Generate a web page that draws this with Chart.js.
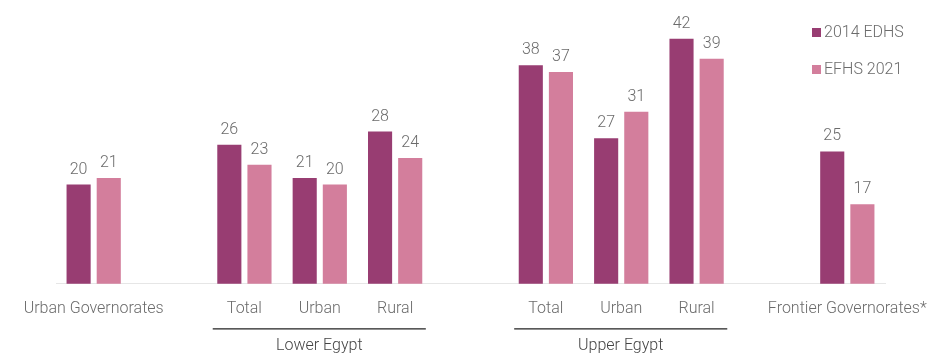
<!DOCTYPE html>
<html>
<head>
<meta charset="utf-8">
<script src="https://cdn.jsdelivr.net/npm/chart.js@4/dist/chart.umd.min.js"></script>
<style>
  html, body { margin: 0; padding: 0; background: #fff; }
  #wrap { width: 939px; height: 355px; position: relative; }
</style>
</head>
<body>
<div id="wrap"><canvas id="chart"></canvas></div>
<script>
// categories (empty strings are spacer slots between groups)
const categories = ['Urban Governorates', '', 'Total', 'Urban', 'Rural', '', 'Total', 'Urban', 'Rural', '', 'Frontier Governorates*'];
const edhs2014 = [20, null, 26, 21, 28, null, 38, 27, 42, null, 25];
const efhs2021 = [21, null, 23, 20, 24, null, 37, 31, 39, null, 17];
const seriesNames = ['2014 EDHS', 'EFHS 2021'];
const groups = [
  { label: 'Lower Egypt', from: 2, to: 4 },
  { label: 'Upper Egypt', from: 6, to: 8 }
];

const darkColor = '#983d72';
const lightColor = '#d37e9c';
const textColor = '#6b6b6b';
const fontFamily = 'Roboto, sans-serif';

// value labels above each bar
const valueLabels = {
  id: 'valueLabels',
  afterDatasetsDraw(chart) {
    const ctx = chart.ctx;
    ctx.save();
    ctx.font = '300 16px ' + fontFamily;
    ctx.fillStyle = textColor;
    ctx.textAlign = 'center';
    ctx.textBaseline = 'bottom';
    chart.data.datasets.forEach((ds, i) => {
      chart.getDatasetMeta(i).data.forEach((bar, j) => {
        if (ds.data[j] == null) return;
        ctx.fillText(ds.data[j], bar.x, bar.y - 7);
      });
    });
    ctx.restore();
  }
};

// group brackets under the axis labels
const groupLabels = {
  id: 'groupLabels',
  afterDraw(chart) {
    const ctx = chart.ctx;
    const x = chart.scales.x;
    const half = (x.getPixelForValue(1) - x.getPixelForValue(0)) / 2;
    const base = x.top;
    ctx.save();
    groups.forEach(g => {
      const left = x.getPixelForValue(g.from) - half + 6;
      const right = x.getPixelForValue(g.to) + half - 7;
      ctx.strokeStyle = '#222';
      ctx.lineWidth = 1.3;
      ctx.beginPath();
      ctx.moveTo(left, base + 45);
      ctx.lineTo(right, base + 45);
      ctx.stroke();
      ctx.font = '300 16px ' + fontFamily;
      ctx.fillStyle = '#444';
      ctx.textAlign = 'center';
      ctx.textBaseline = 'middle';
      ctx.fillText(g.label, (left + right) / 2, base + 62);
    });
    ctx.restore();
  }
};

// vertical legend at the top right
const sideLegend = {
  id: 'sideLegend',
  afterDraw(chart) {
    const ctx = chart.ctx;
    ctx.save();
    ctx.font = '300 16px ' + fontFamily;
    ctx.textBaseline = 'middle';
    chart.data.datasets.forEach((ds, i) => {
      const y = 33 + i * 37;
      ctx.fillStyle = ds.backgroundColor;
      ctx.fillRect(812, y - 5, 9, 9);
      ctx.fillStyle = textColor;
      ctx.fillText(ds.label, 824, y);
    });
    ctx.restore();
  }
};

new Chart(document.getElementById('chart'), {
  type: 'bar',
  data: {
    labels: categories,
    datasets: [
      { label: seriesNames[0], data: edhs2014, backgroundColor: darkColor },
      { label: seriesNames[1], data: efhs2021, backgroundColor: lightColor }
    ]
  },
  options: {
    responsive: true,
    maintainAspectRatio: false,
    animation: false,
    layout: { padding: { left: 56, right: 54, top: 19, bottom: 20 } },
    datasets: { bar: { categoryPercentage: 0.8, barPercentage: 0.8 } },
    plugins: { legend: { display: false }, tooltip: { enabled: false } },
    scales: {
      x: {
        grid: { display: false, drawTicks: false },
        border: { display: true, color: '#e6e6e6', width: 1 },
        ticks: {
          color: textColor,
          font: { family: fontFamily, size: 16, weight: '300' },
          padding: 16,
          maxRotation: 0,
          autoSkip: false
        },
        // let the long end labels run into the side padding
        afterFit(scale) {
          scale.paddingLeft = 0;
          scale.paddingRight = 0;
        }
      },
      y: { display: false, min: 5, max: 45 }
    }
  },
  plugins: [valueLabels, groupLabels, sideLegend]
});
</script>
</body>
</html>
